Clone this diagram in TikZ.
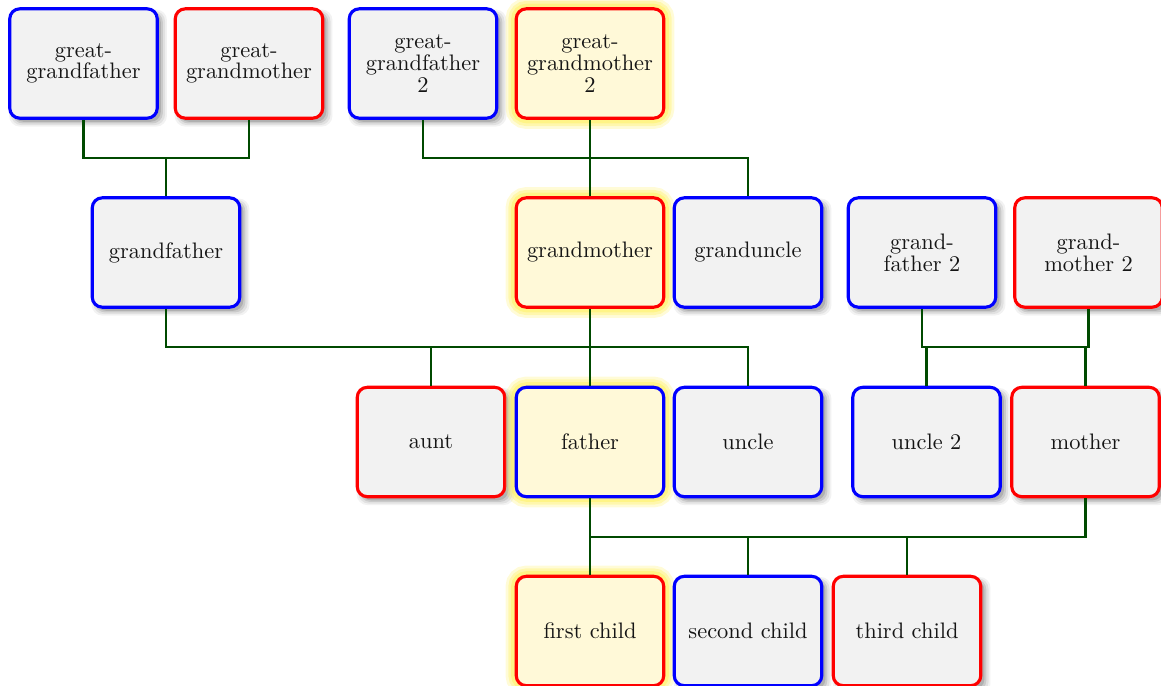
\documentclass[tikz,border=0pt]{standalone}
\usetikzlibrary{shadows}
\definecolor{boxfill}{HTML}{F2F2F2}
\definecolor{hlfill}{HTML}{FFF9D8}
\definecolor{glowc}{HTML}{FFF060}
\definecolor{linec}{HTML}{004A00}
\definecolor{txt}{HTML}{151515}
\definecolor{male}{HTML}{0000FF}
\definecolor{female}{HTML}{FF0000}
\begin{document}
\begin{tikzpicture}[x=0.446pt,y=-0.446pt,
  person/.style={rectangle, rounded corners=4.5pt, line width=1.4pt,
    minimum width=65.8pt, minimum height=48.8pt, inner sep=1pt, align=center,
    text=txt, font=\fontsize{10}{9.7}\selectfont},
  plain/.style={person, fill=boxfill,
    general shadow={draw=none, fill=black, opacity=0.05, shadow xshift=1.9pt, shadow yshift=-1.9pt, shadow scale=1.07},
    general shadow={draw=none, fill=black, opacity=0.07, shadow xshift=1.9pt, shadow yshift=-1.9pt, shadow scale=1.045},
    general shadow={draw=none, fill=black, opacity=0.10, shadow xshift=1.8pt, shadow yshift=-1.8pt, shadow scale=1.02},
    general shadow={draw=none, fill=black, opacity=0.13, shadow xshift=1.6pt, shadow yshift=-1.6pt, shadow scale=1.0}},
  hl/.style={person, fill=hlfill,
    preaction={draw=glowc, line width=9.5pt, draw opacity=0.25},
    preaction={draw=glowc, line width=7pt, draw opacity=0.35},
    preaction={draw=glowc, line width=4.5pt, draw opacity=0.5}},
  m/.style={draw=male}, f/.style={draw=female},
  conn/.style={draw=linec, line width=1.05pt}]
\useasboundingbox (0,0) rectangle (1161,686);
% row 0
\node[plain,m] (ggf)  at (83.5,63.5) {great-\\grandfather};
\node[plain,f] (ggm)  at (249,63.5) {great-\\grandmother};
\node[plain,m] (ggf2) at (423,63.5) {great-\\grandfather\\2};
\node[hl,f]    (ggm2) at (590,63.5) {great-\\grandmother\\2};
% row 1
\node[plain,m] (gf)   at (166,252.5) {grandfather};
\node[hl,f]    (gm)   at (590,252.5) {grandmother};
\node[plain,m] (gu)   at (748,252.5) {granduncle};
\node[plain,m] (gf2)  at (922,252.5) {grand-\\father 2};
\node[plain,f] (gm2)  at (1088.5,252.5) {grand-\\mother 2};
% row 2
\node[plain,f] (aunt) at (431,442) {aunt};
\node[hl,m]    (fa)   at (590,442) {father};
\node[plain,m] (un)   at (748,442) {uncle};
\node[plain,m] (un2)  at (926.5,442) {uncle 2};
\node[plain,f] (mo)   at (1085.5,442) {mother};
% row 3
\node[hl,f]    (c1)   at (590,631) {first child};
\node[plain,m] (c2)   at (748,631) {second child};
\node[plain,f] (c3)   at (907,631) {third child};
% junctions
\coordinate (j1) at (166,158);
\coordinate (j2l) at (423,158);
\coordinate (j2r) at (748,158);
\coordinate (j3l) at (166,347);
\coordinate (j3r) at (748,347);
\coordinate (j4l) at (922,347);
\coordinate (j4r) at (1088.5,347);
\coordinate (j5l) at (590,537);
\coordinate (j5r) at (1085.5,537);
% family 1
\draw[conn] (ggf.south) |- (j1);
\draw[conn] (ggm.south) |- (j1);
\draw[conn] (j1) -- (gf.north);
% family 2
\draw[conn] (ggf2.south) -- (j2l) -- (j2r) -- (gu.north);
\draw[conn] (ggm2.south) -- (gm.north);
% family 3
\draw[conn] (gf.south) -- (j3l) -- (j3r) -- (un.north);
\draw[conn] (gm.south) -- (fa.north);
\draw[conn] (aunt.north) -- (aunt.north |- j3l);
% family 4
\draw[conn] (gf2.south) -- (j4l) -- (j4r) -- (gm2.south);
\draw[conn] (un2.north) -- (un2.north |- j4l);
\draw[conn] (mo.north) -- (mo.north |- j4l);
% family 5
\draw[conn] (fa.south) -- (c1.north);
\draw[conn] (j5l) -- (j5r) -- (mo.south);
\draw[conn] (c2.north) -- (c2.north |- j5l);
\draw[conn] (c3.north) -- (c3.north |- j5l);
\end{tikzpicture}
\end{document}
